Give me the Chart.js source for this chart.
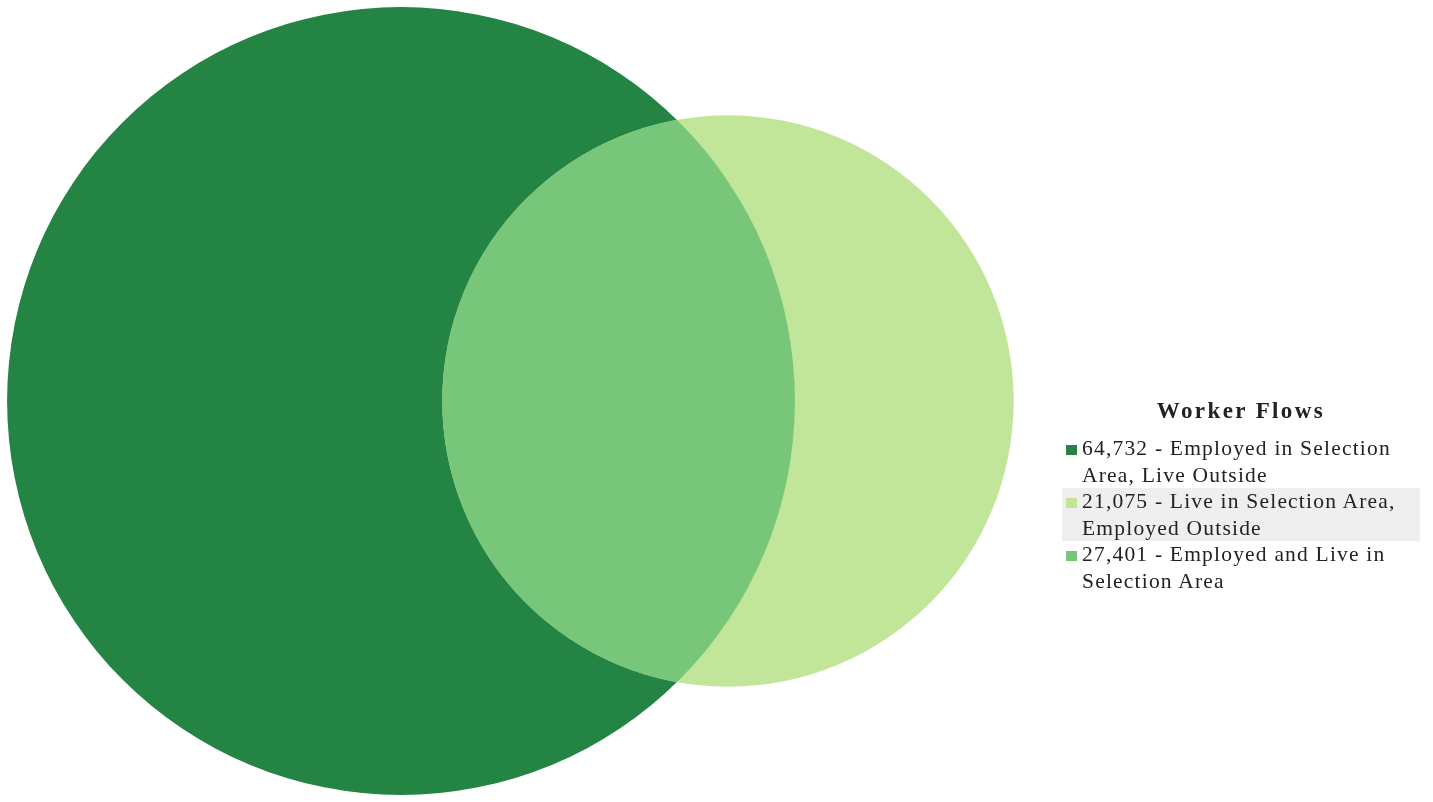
<!DOCTYPE html>
<html lang="en">
<head>
  <meta charset="UTF-8" />
  <title>Worker Flows</title>
  <script src="https://cdn.jsdelivr.net/npm/chart.js"></script>
  <style>
    body { margin: 0; background: #fff; }
    .wrap { position: relative; width: 1433px; height: 802px; }
    #legend {
      position: absolute; left: 1062px; top: 398px; width: 358px;
      font-family: "Liberation Serif", serif; font-size: 21.5px; color: #222;
    }
    #legend .title { text-align: center; font-weight: bold; font-size: 23px; letter-spacing: 2.4px; line-height: 26px; margin-bottom: 11px; }
    #legend .item { position: relative; padding-left: 20px; line-height: 26.5px; letter-spacing: 1.2px; white-space: pre-line; }
    #legend .item.hover { background: #efefef; }
    #legend .swatch { position: absolute; left: 4px; top: 10px; width: 11px; height: 10px; }
  </style>
</head>
<body>
  <div class="wrap">
    <canvas id="vennChart"></canvas>
    <div id="legend"></div>
  </div>

  <script>
    // Worker flows for the selection area
    const labels = [
      "Employed in Selection\nArea, Live Outside",
      "Live in Selection Area,\nEmployed Outside",
      "Employed and Live in\nSelection Area"
    ];
    const values = [64732, 21075, 27401];
    const colors = ["#238443", "#c2e699", "#78c679"];

    // circle areas: employed in area, live in area, and their overlap
    const workTotal = values[0] + values[2];
    const liveTotal = values[1] + values[2];
    const overlap = values[2];

    const r1 = Math.sqrt(workTotal / Math.PI);
    const r2 = Math.sqrt(liveTotal / Math.PI);

    function lensArea(d) {
      const a = r1 * r1 * Math.acos((d * d + r1 * r1 - r2 * r2) / (2 * d * r1));
      const b = r2 * r2 * Math.acos((d * d + r2 * r2 - r1 * r1) / (2 * d * r2));
      const c = 0.5 * Math.sqrt((-d + r1 + r2) * (d + r1 - r2) * (d - r1 + r2) * (d + r1 + r2));
      return a + b - c;
    }

    // distance between centres so the lens matches the overlap
    let lo = Math.abs(r1 - r2) + 1e-6, hi = r1 + r2 - 1e-6;
    for (let i = 0; i < 60; i++) {
      const mid = (lo + hi) / 2;
      if (lensArea(mid) > overlap) lo = mid; else hi = mid;
    }
    const dist = (lo + hi) / 2;

    // equal scale on both axes
    const W = 1433, H = 802;
    const yMax = r1 * 1.018;
    const xMin = -yMax;
    const xMax = xMin + (W / H) * 2 * yMax;

    const lensPlugin = {
      id: "lens",
      afterDatasetsDraw(chart) {
        const a = chart.getDatasetMeta(0).data[0];
        const b = chart.getDatasetMeta(1).data[0];
        const ctx = chart.ctx;
        ctx.save();
        ctx.beginPath();
        ctx.arc(a.x, a.y, a.options.radius, 0, Math.PI * 2);
        ctx.clip();
        ctx.beginPath();
        ctx.arc(b.x, b.y, b.options.radius, 0, Math.PI * 2);
        ctx.fillStyle = colors[2];
        ctx.fill();
        ctx.restore();
      }
    };

    function pixelRadius(c) {
      if (!c.raw) return 0;
      const x = c.chart.scales.x;
      return x.getPixelForValue(c.raw.size) - x.getPixelForValue(0);
    }

    const canvas = document.getElementById("vennChart");

    new Chart(canvas.getContext("2d"), {
      type: "scatter",
      data: {
        datasets: [
          {
            label: labels[0],
            data: [{ x: 0, y: 0, size: r1 }],
            pointBackgroundColor: colors[0],
            pointBorderWidth: 0,
            pointRadius: pixelRadius,
            pointHoverRadius: pixelRadius,
            clip: false,
            order: 2
          },
          {
            label: labels[1],
            data: [{ x: dist, y: 0, size: r2 }],
            pointBackgroundColor: colors[1],
            pointBorderWidth: 0,
            pointRadius: pixelRadius,
            pointHoverRadius: pixelRadius,
            clip: false,
            order: 1
          }
        ]
      },
      options: {
        responsive: true,
        maintainAspectRatio: false,
        animation: false,
        events: [],
        layout: { padding: 0 },
        plugins: {
          legend: { display: false },
          tooltip: { enabled: false }
        },
        scales: {
          x: { type: "linear", display: false, min: xMin, max: xMax },
          y: { type: "linear", display: false, min: -yMax, max: yMax }
        }
      },
      plugins: [lensPlugin]
    });

    // legend
    const legend = document.getElementById("legend");
    let html = '<div class="title">Worker Flows</div>';
    values.forEach(function (v, i) {
      html += '<div class="item' + (i === 1 ? ' hover' : '') + '">' +
        '<span class="swatch" style="background:' + colors[i] + '"></span>' +
        v.toLocaleString("en-US") + " - " + labels[i] + '</div>';
    });
    legend.innerHTML = html;
  </script>
</body>
</html>
